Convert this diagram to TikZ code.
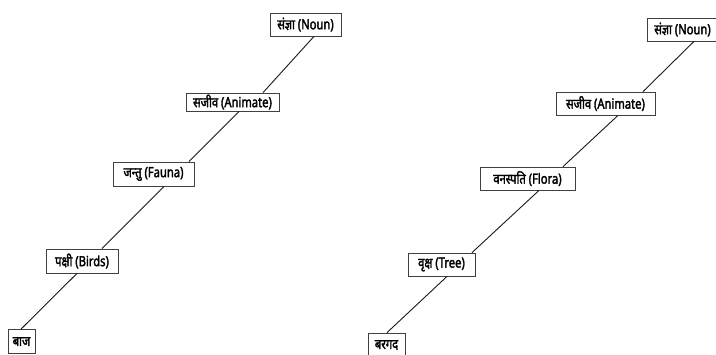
\documentclass[tikz,border=0pt]{standalone}
\usepackage{fontspec}
\newfontfamily\hindi[Script=Devanagari,FakeStretch=0.8,FakeBold=2.2]{Noto Sans}
\begin{document}
\begin{tikzpicture}[x=1pt,y=-1pt,
  box/.style={draw=black!75, line width=0.8pt, fill=white, inner sep=0pt, minimum height=23pt,
    font=\hindi\fontsize{14}{16}\selectfont},
  link/.style={draw=black!90, line width=0.9pt}]
\useasboundingbox (0,0) rectangle (716,354);
% left tree
\node[box, minimum width=71pt] (n1) at (305.5,24.5) {संज्ञा (Noun)};
\node[box, minimum width=93pt, minimum height=18pt] (a1) at (232.5,102) {सजीव (Animate)};
\node[box, minimum width=81pt, minimum height=24pt] (f1) at (153.5,174) {जन्तु (Fauna)};
\node[box, minimum width=72pt, minimum height=24pt] (b1) at (82,261) {पक्षी (Birds)};
\node[box, minimum width=27pt, minimum height=24pt] (z1) at (21.5,341.5) {बाज};
% right tree
\node[box, minimum width=71pt] (n2) at (682.5,29.5) {संज्ञा (Noun)};
\node[box, minimum width=99pt] (a2) at (605.5,103.5) {सजीव (Animate)};
\node[box, minimum width=95pt] (f2) at (527.5,178.5) {वनस्पति (Flora)};
\node[box, minimum width=67pt] (t2) at (441.5,264.5) {वृक्ष (Tree)};
\node[box, minimum width=37pt, minimum height=24pt] (g2) at (386.5,345) {बरगद};
% connectors left
\draw[link] ([xshift=8.5pt]n1.south) -- ([xshift=30.5pt]a1.north);
\draw[link] ([xshift=6.5pt]a1.south) -- ([xshift=35.5pt]f1.north);
\draw[link] ([xshift=10.5pt]f1.south) -- ([xshift=20pt]b1.north);
\draw[link] ([xshift=-5pt]b1.south) -- ([xshift=-0.5pt]z1.north);
% connectors right
\draw[link] ([xshift=11.5pt]n2.south) -- ([xshift=37.5pt]a2.north);
\draw[link] ([xshift=12.5pt]a2.south) -- ([xshift=35.5pt]f2.north);
\draw[link] ([xshift=11.5pt]f2.south) -- ([xshift=30.5pt]t2.north);
\draw[link] ([xshift=5.5pt]t2.south) -- ([xshift=0.5pt]g2.north);
\end{tikzpicture}
\end{document}
